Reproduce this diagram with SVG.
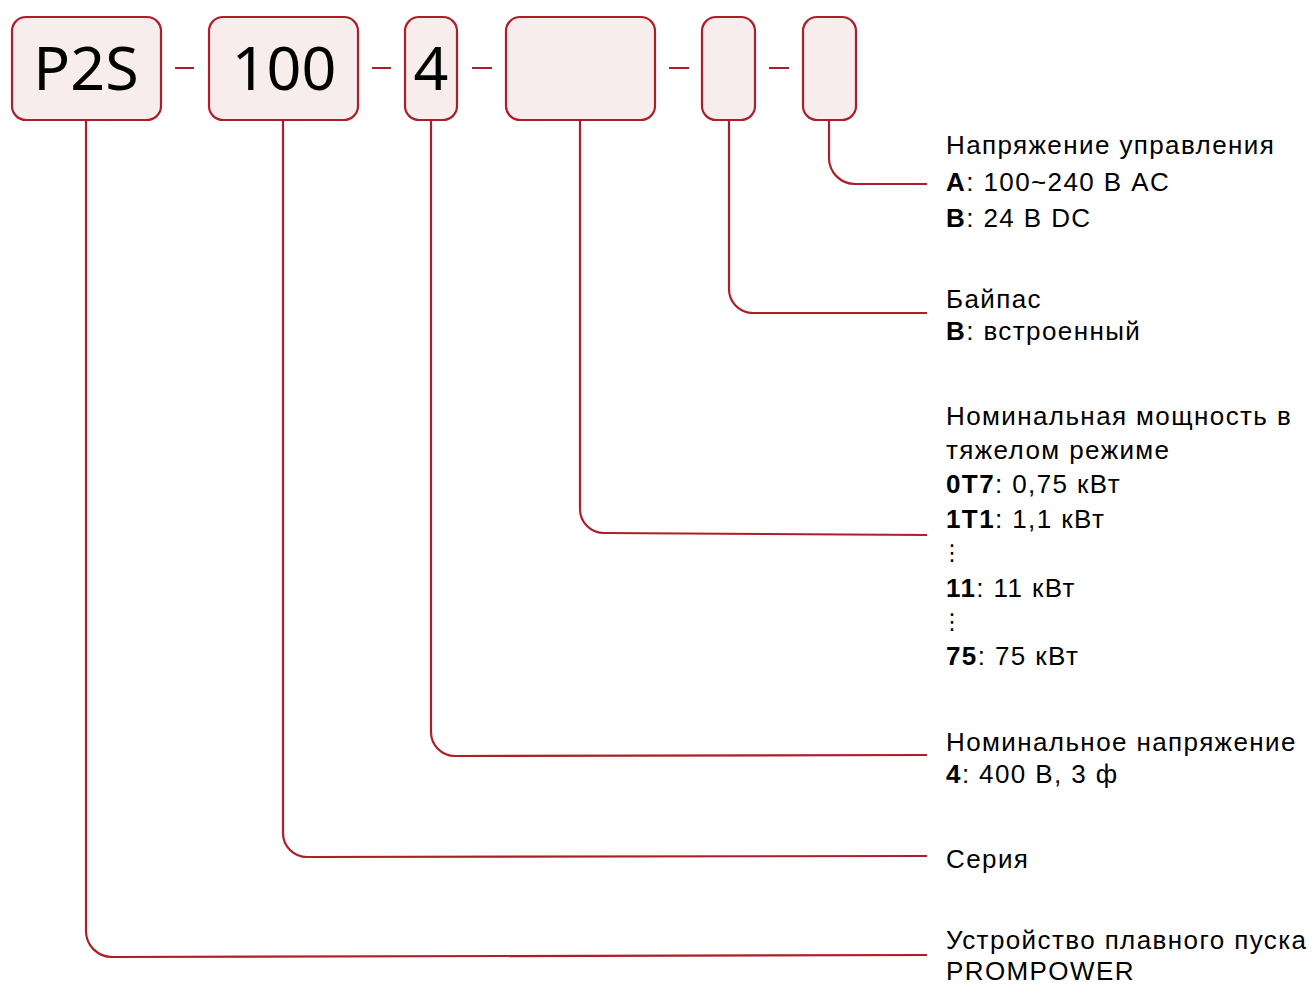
<svg xmlns="http://www.w3.org/2000/svg" width="1313" height="985" viewBox="0 0 1313 985">
<style>
.box{fill:#F7EDED;stroke:#AE1E28;stroke-width:2.2}
.code{font-family:"Noto Sans","Open Sans",sans-serif;font-size:61px;fill:#000;text-anchor:middle}
.con{fill:none;stroke:#AE1E28;stroke-width:2.2}
.lbl{font-family:"Liberation Sans",Arial,sans-serif;font-size:26px;letter-spacing:1.4px;fill:#000}
.b{font-weight:bold}
.dots{font-family:"DejaVu Sans",sans-serif;font-size:22px;letter-spacing:0}
</style>
<rect width="1313" height="985" fill="#fff"/>
<g id="node-p2s"><rect class="box" x="12" y="17" width="149" height="103" rx="14"/><text class="code" x="86" y="90">P2S</text></g>
<g id="node-100"><rect class="box" x="209" y="17" width="149" height="103" rx="14"/><text class="code" x="284" y="90">100</text></g>
<g id="node-4"><rect class="box" x="405" y="17" width="52" height="103" rx="14"/><text class="code" x="431" y="90">4</text></g>
<g id="node-power"><rect class="box" x="506" y="17" width="149" height="103" rx="14"/></g>
<g id="node-bypass"><rect class="box" x="702" y="17" width="53" height="103" rx="14"/></g>
<g id="node-ctrl"><rect class="box" x="803" y="17" width="53" height="103" rx="14"/></g>
<g id="connectors">
<path class="con" d="M175 68H194M372 68H391M472 68H492M669 68H689M769 68H789"/>
<path class="con" d="M829 120V158A26 26 0 0 0 855 184H927"/>
<path class="con" d="M729 120V289A24 24 0 0 0 753 313H927"/>
<path class="con" d="M580 120V509A24 24 0 0 0 604 533L927 535"/>
<path class="con" d="M431 120V732A24 24 0 0 0 455 756L927 755"/>
<path class="con" d="M283 120V833A24 24 0 0 0 307 857L927 856"/>
<path class="con" d="M86 120V931A26 26 0 0 0 112 957L927 955"/>
</g>
<g id="label-ctrl" class="lbl">
<text x="946" y="154">Напряжение управления</text>
<text x="946" y="191"><tspan class="b">A</tspan>: 100~240 В AC</text>
<text x="946" y="227"><tspan class="b">B</tspan>: 24 В DC</text>
</g>
<g id="label-bypass" class="lbl">
<text x="946" y="308">Байпас</text>
<text x="946" y="340"><tspan class="b">B</tspan>: встроенный</text>
</g>
<g id="label-power" class="lbl">
<text x="946" y="425">Номинальная мощность в</text>
<text x="946" y="459">тяжелом режиме</text>
<text x="946" y="493"><tspan class="b">0T7</tspan>: 0,75 кВт</text>
<text x="946" y="528"><tspan class="b">1T1</tspan>: 1,1 кВт</text>
<text class="dots" x="941" y="560">⋮</text>
<text x="946" y="597"><tspan class="b">11</tspan>: 11 кВт</text>
<text class="dots" x="941" y="629">⋮</text>
<text x="946" y="665"><tspan class="b">75</tspan>: 75 кВт</text>
</g>
<g id="label-voltage" class="lbl">
<text x="946" y="751">Номинальное напряжение</text>
<text x="946" y="783"><tspan class="b">4</tspan>: 400 В, 3 ф</text>
</g>
<g id="label-series" class="lbl">
<text x="946" y="868">Серия</text>
</g>
<g id="label-device" class="lbl">
<text x="946" y="949">Устройство плавного пуска</text>
<text x="946" y="980">PROMPOWER</text>
</g>
</svg>
